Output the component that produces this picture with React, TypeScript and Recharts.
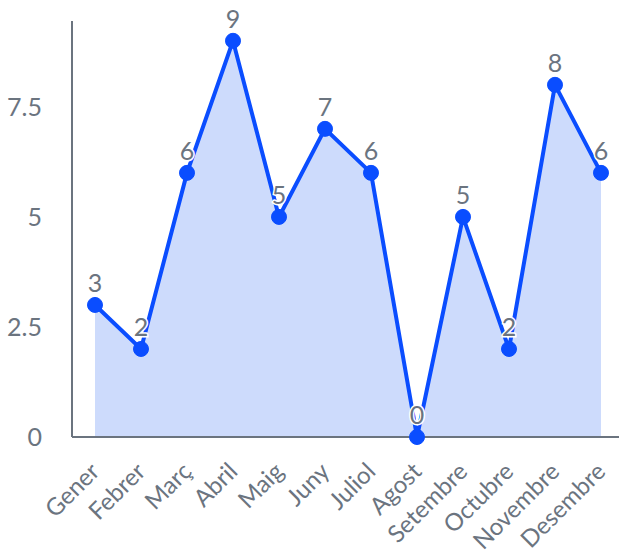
import { AreaChart, Area, XAxis, YAxis, LabelList } from 'recharts';

const MONTHS = [
  'Gener', 'Febrer', 'Març', 'Abril', 'Maig', 'Juny',
  'Juliol', 'Agost', 'Setembre', 'Octubre', 'Novembre', 'Desembre',
];
const VALUES = [3, 2, 6, 9, 5, 7, 6, 0, 5, 2, 8, 6];
const Y_TICKS = [0, 2.5, 5, 7.5];

const data = MONTHS.map((month, i) => ({ month, value: VALUES[i] }));

const TEXT = '#6b747f';
const AXIS = '#6b747f';
const LINE = '#0a4dff';
const FILL = '#cddbfc';
const FONT = 'Lato, "Noto Sans", sans-serif';

function MonthTick({ x, y, payload }: { x: number; y: number; payload: { value: string } }) {
  return (
    <g transform={`translate(${x + 6},${y + 28})`}>
      <text
        x={0}
        y={0}
        textAnchor="end"
        transform="rotate(-45)"
        fontSize={24}
        fill={TEXT}
        fontFamily={FONT}
      >
        {payload.value}
      </text>
    </g>
  );
}

export default function App() {
  return (
    <div style={{ position: 'absolute', left: 0, top: 0, width: 619, height: 554, fontFamily: FONT }}>
      <AreaChart width={619} height={554} data={data} margin={{ top: 21, right: 0, bottom: 0, left: 0 }}>
        <XAxis
          dataKey="month"
          height={117}
          interval={0}
          padding={{ left: 23, right: 18 }}
          tickLine={false}
          stroke={AXIS}
          strokeWidth={2}
          tick={MonthTick as any}
        />
        <YAxis
          width={72}
          domain={[0, 9.45]}
          ticks={Y_TICKS}
          tickLine={false}
          tickMargin={24}
          stroke={AXIS}
          strokeWidth={2}
          tick={{ fontSize: 25, fill: TEXT, fontFamily: FONT }}
        />
        <Area
          type="linear"
          dataKey="value"
          stroke={LINE}
          strokeWidth={4}
          fill={FILL}
          fillOpacity={1}
          dot={{ r: 7.5, fill: LINE, stroke: LINE, strokeWidth: 1 }}
          activeDot={false}
          isAnimationActive={false}
        >
          <LabelList
            dataKey="value"
            position="top"
            offset={13}
            fontSize={25}
            fill={TEXT}
            stroke="#ffffff"
            strokeWidth={3}
            paintOrder="stroke"
            fontFamily={FONT}
          />
        </Area>
      </AreaChart>
    </div>
  );
}
